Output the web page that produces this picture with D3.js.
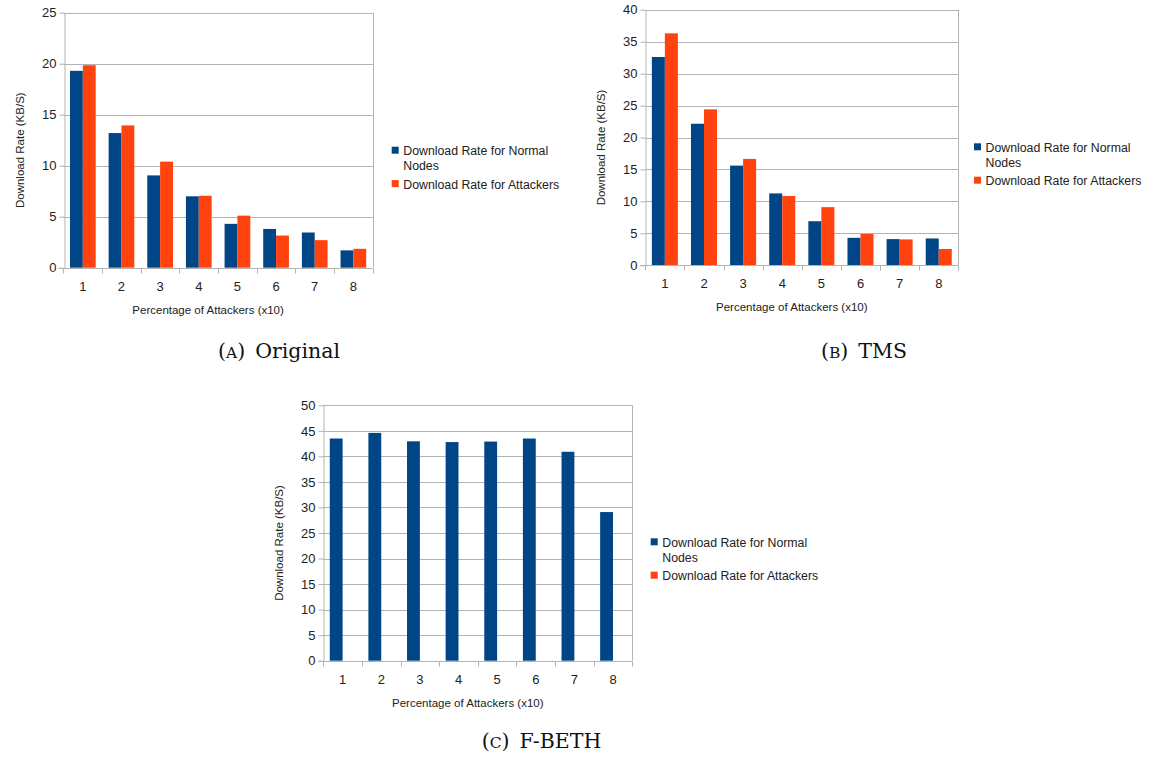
<!DOCTYPE html>
<html>
<head>
<meta charset="utf-8">
<script src="https://cdn.jsdelivr.net/npm/d3@7/dist/d3.min.js"></script>
<style>
  html, body { margin: 0; padding: 0; background: #fff; }
  svg { display: block; }
  text { font-family: "Liberation Sans", Arial, sans-serif; fill: #222; }
  .cap { font-family: "DejaVu Serif", "Liberation Serif", serif; fill: #111; }
</style>
</head>
<body>
<svg id="chart" width="1154" height="757"></svg>
<script>
// ---------- DATA ----------
const categories = ["1", "2", "3", "4", "5", "6", "7", "8"];
const seriesNames = ["Download Rate for Normal Nodes", "Download Rate for Attackers"];
const legendLines = [["Download Rate for Normal", "Nodes"], ["Download Rate for Attackers"]];

const originalNormal    = [19.3, 13.2, 9.05, 7.0, 4.3, 3.8, 3.45, 1.7];
const originalAttackers = [19.85, 13.95, 10.4, 7.05, 5.1, 3.15, 2.7, 1.85];
const originalTicks     = [0, 5, 10, 15, 20, 25];

const tmsNormal    = [32.6, 22.15, 15.6, 11.25, 6.9, 4.3, 4.1, 4.2];
const tmsAttackers = [36.3, 24.4, 16.65, 10.85, 9.1, 4.9, 4.05, 2.55];
const tmsTicks     = [0, 5, 10, 15, 20, 25, 30, 35, 40];

const fbethNormal    = [43.5, 44.6, 42.95, 42.8, 42.9, 43.5, 40.9, 29.1];
const fbethAttackers = [0, 0, 0, 0, 0, 0, 0, 0];
const fbethTicks     = [0, 5, 10, 15, 20, 25, 30, 35, 40, 45, 50];

const captions = [
  { paren: "A", label: "Original" },
  { paren: "B", label: "TMS" },
  { paren: "C", label: "F-BETH" }
];

const yTitle = "Download Rate (KB/S)";
const xTitle = "Percentage of Attackers (x10)";
const colors = ["#004586", "#ff420e"];
const gridColor = "#b3b3b3";

// ---------- LAYOUT ----------
const panels = [
  { normal: originalNormal, attackers: originalAttackers, ticks: originalTicks,
    left: 63.5, top: 12.7, right: 372.7, bottom: 267.7,
    legendX: 391.7, legendY: 146.7, caption: captions[0], capX: 279, capY: 358 },
  { normal: tmsNormal, attackers: tmsAttackers, ticks: tmsTicks,
    left: 645.3, top: 9.7, right: 958.3, bottom: 265.3,
    legendX: 974, legendY: 143.3, caption: captions[1], capX: 864, capY: 358 },
  { normal: fbethNormal, attackers: fbethAttackers, ticks: fbethTicks,
    left: 323.3, top: 405.3, right: 632.3, bottom: 660.7,
    legendX: 650.7, legendY: 538.3, caption: captions[2], capX: 541.5, capY: 748 }
];

const svg = d3.select("#chart");

panels.forEach(p => {
  const g = svg.append("g");
  const pad = 0.335;
  const x = d3.scaleBand().domain(categories).range([p.left, p.right])
    .paddingInner(pad).paddingOuter(pad / 2);
  const xs = d3.scaleBand().domain(seriesNames).range([0, x.bandwidth()]);
  const yMax = p.ticks[p.ticks.length - 1];
  const y = d3.scaleLinear().domain([0, yMax]).range([p.bottom, p.top]);

  // gridlines
  g.append("g").selectAll("line").data(p.ticks.filter(t => t > 0)).join("line")
    .attr("x1", p.left).attr("x2", p.right)
    .attr("y1", d => Math.round(y(d)) + 0.5).attr("y2", d => Math.round(y(d)) + 0.5)
    .attr("stroke", gridColor).attr("stroke-width", 1);
  // right border
  g.append("line")
    .attr("x1", Math.round(p.right) + 0.5).attr("x2", Math.round(p.right) + 0.5)
    .attr("y1", y(yMax)).attr("y2", p.bottom)
    .attr("stroke", gridColor);

  // bars
  const rows = categories.map((c, i) => ({ c, vals: [p.normal[i], p.attackers[i]] }));
  const grp = g.append("g").selectAll("g").data(rows).join("g")
    .attr("transform", d => `translate(${x(d.c)},0)`);
  grp.selectAll("rect").data(d => d.vals.map((v, k) => ({ v, k })))
    .join("rect")
    .attr("x", d => xs(seriesNames[d.k]))
    .attr("width", xs.bandwidth())
    .attr("y", d => y(d.v))
    .attr("height", d => p.bottom - y(d.v))
    .attr("fill", d => colors[d.k]);

  // y axis
  const yAxis = d3.axisLeft(y).tickValues(p.ticks).tickSize(5).tickSizeOuter(0).tickPadding(3);
  const ya = g.append("g").attr("transform", `translate(${Math.round(p.left) + 0.5},0)`).call(yAxis);
  ya.select(".domain").attr("stroke", gridColor);
  ya.selectAll(".tick line").attr("stroke", gridColor);
  ya.selectAll(".tick text").attr("font-size", 13).attr("fill", "#222")
    .attr("font-family", "Liberation Sans, Arial, sans-serif");

  // x axis
  const xAxis = d3.axisBottom(x).tickSize(0).tickPadding(13).tickSizeOuter(0);
  const xa = g.append("g").attr("transform", `translate(0,${Math.round(p.bottom) + 0.5})`).call(xAxis);
  xa.select(".domain").remove();
  xa.selectAll(".tick text").attr("font-size", 13).attr("fill", "#222")
    .attr("font-family", "Liberation Sans, Arial, sans-serif");
  g.append("line")
    .attr("x1", p.left - 5).attr("x2", p.right)
    .attr("y1", Math.round(p.bottom) + 0.5).attr("y2", Math.round(p.bottom) + 0.5)
    .attr("stroke", gridColor);
  const half = x.step() * pad / 2;
  const bounds = categories.map(c => x(c) - half).concat([x(categories[categories.length - 1]) + x.bandwidth() + half]);
  g.append("g").selectAll("line").data(bounds).join("line")
    .attr("x1", d => Math.round(d) + 0.5).attr("x2", d => Math.round(d) + 0.5)
    .attr("y1", Math.round(p.bottom) + 0.5).attr("y2", Math.round(p.bottom) + 5.5)
    .attr("stroke", gridColor);

  // axis titles
  g.append("text")
    .attr("x", (p.left + p.right) / 2 - 10).attr("y", p.bottom + 46)
    .attr("text-anchor", "middle").attr("font-size", 11.5).text(xTitle);
  const yc = (p.top + p.bottom) / 2 + 10;
  g.append("text")
    .attr("transform", `translate(${p.left - 44 + 4},${yc}) rotate(-90)`)
    .attr("text-anchor", "middle").attr("font-size", 11.5).text(yTitle);

  // legend
  const lg = g.append("g");
  legendLines.forEach((lines, k) => {
    const top = p.legendY + k * 33.4;
    lg.append("rect").attr("x", p.legendX).attr("y", top).attr("width", 7).attr("height", 7)
      .attr("fill", colors[k]);
    const t = lg.append("text").attr("font-size", 12.3);
    lines.forEach((ln, j) => {
      t.append("tspan").attr("x", p.legendX + 11.6).attr("y", top + 8.6 + j * 15).text(ln);
    });
  });

  // caption
  const ct = g.append("text").attr("class", "cap")
    .attr("x", p.capX).attr("y", p.capY).attr("text-anchor", "middle").attr("font-size", 20.5);
  ct.append("tspan").text("(");
  ct.append("tspan").attr("font-size", 15.5).text(p.caption.paren);
  ct.append("tspan").text(")");
  ct.append("tspan").attr("dx", 10).text(p.caption.label);
});
</script>
</body>
</html>
